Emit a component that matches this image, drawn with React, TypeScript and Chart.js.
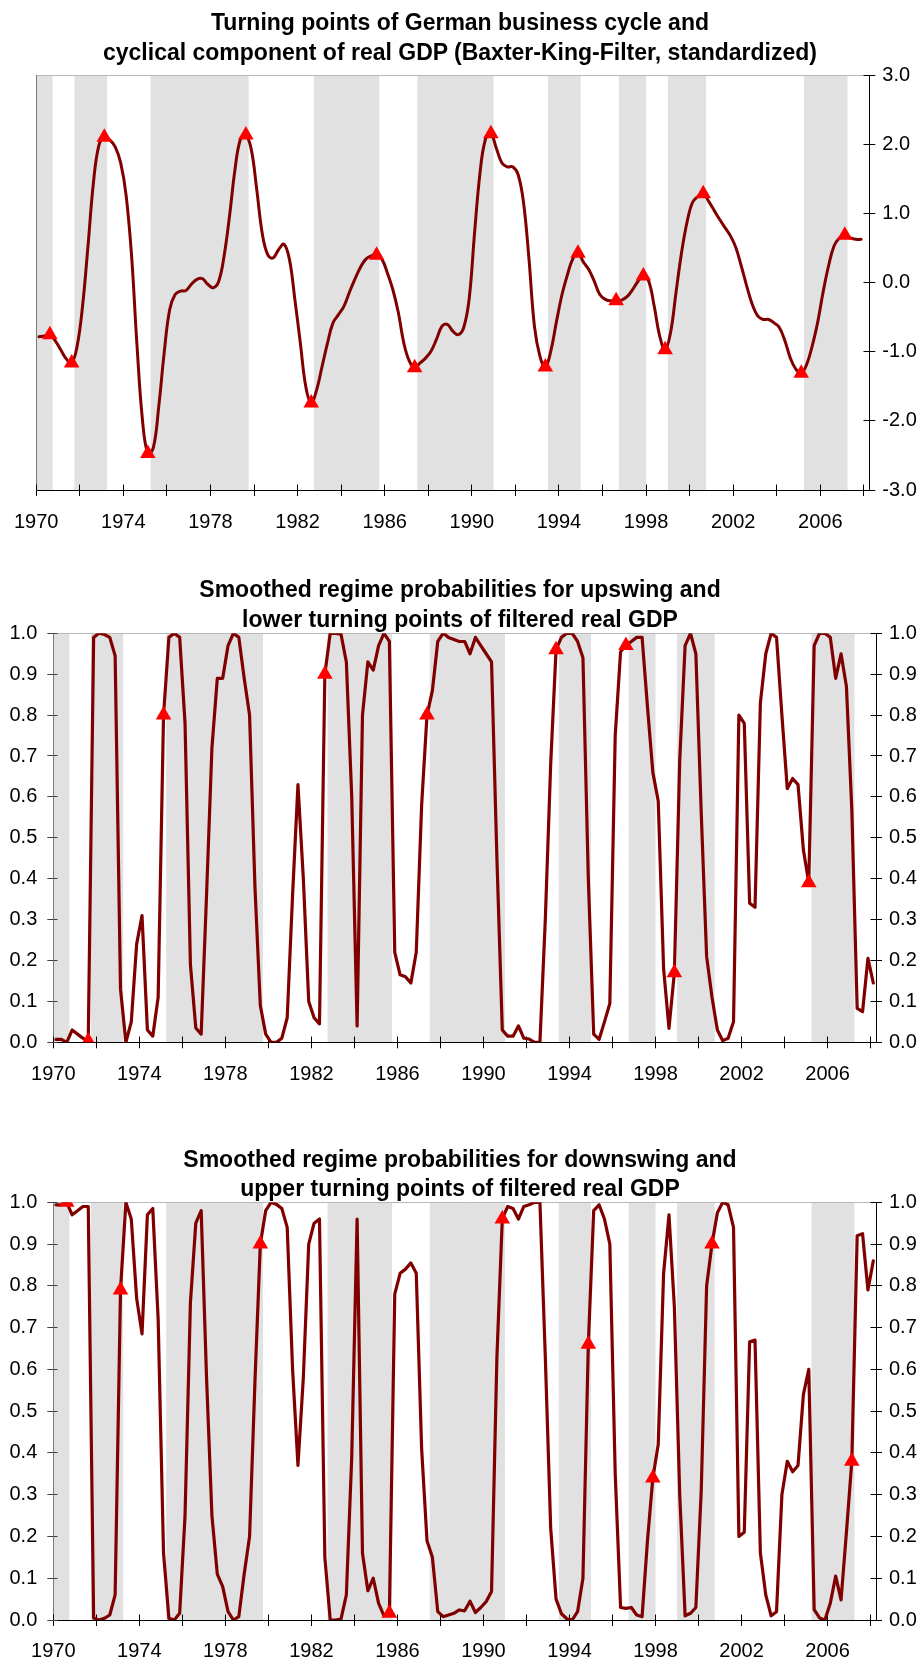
import React, { useEffect, useRef } from 'react';
import { Chart, registerables } from 'chart.js';

Chart.register(...registerables);

const FONT = "'Liberation Sans', Arial, Helvetica, sans-serif";

// Quarterly observations 1970Q1 ... 2008Q1, plotted at the centre of each quarter
const FIRST_QUARTER_CENTRE = 1970.125;
const QUARTER = 0.25;

// Cyclical component of real GDP (Baxter-King filter, standardized), 1970Q1..2007Q4
const gdpCycle = [
  -0.78, -0.77, -0.75, -0.84, -0.97, -1.10, -1.16, -0.92, -0.34, 0.53,
  1.45, 1.99, 2.11, 2.07, 1.97, 1.74, 1.27, 0.40, -0.90, -1.98,
  -2.47, -2.39, -1.79, -1.01, -0.39, -0.17, -0.12, -0.11, -0.02, 0.05,
  0.06, -0.02, -0.07, 0.02, 0.39, 0.97, 1.64, 2.08, 2.14, 1.93,
  1.35, 0.72, 0.41, 0.36, 0.48, 0.56, 0.34, -0.24, -0.87, -1.50,
  -1.74, -1.55, -1.21, -0.87, -0.58, -0.46, -0.34, -0.14, 0.05, 0.22,
  0.34, 0.39, 0.40, 0.34, 0.14, -0.10, -0.43, -0.87, -1.13, -1.23,
  -1.16, -1.09, -0.99, -0.82, -0.63, -0.60, -0.70, -0.75, -0.65, -0.24,
  0.72, 1.59, 2.08, 2.16, 1.95, 1.74, 1.68, 1.68, 1.57, 1.16,
  0.34, -0.63, -1.06, -1.22, -0.99, -0.58, -0.19, 0.10, 0.34, 0.43,
  0.30, 0.19, 0.02, -0.17, -0.24, -0.26, -0.26, -0.25, -0.20, -0.10,
  0.02, 0.10, 0.02, -0.34, -0.77, -0.97, -0.72, -0.14, 0.43, 0.87,
  1.16, 1.25, 1.29, 1.18, 1.05, 0.92, 0.80, 0.68, 0.51, 0.24,
  -0.05, -0.31, -0.48, -0.53, -0.53, -0.58, -0.65, -0.84, -1.09, -1.25,
  -1.31, -1.18, -0.92, -0.58, -0.14, 0.24, 0.53, 0.65, 0.69, 0.65,
  0.63, 0.63,
];

// Smoothed regime probabilities: upswing and lower turning points, 1970Q1..2008Q1
const upswingProb = [
  0.007, 0.007, 0.0, 0.03, 0.02, 0.01, 0.003, 0.99, 1.0, 0.997,
  0.99, 0.945, 0.13, 0.0, 0.05, 0.24, 0.31, 0.03, 0.015, 0.11,
  0.80, 0.99, 1.0, 0.99, 0.78, 0.19, 0.035, 0.02, 0.36, 0.72,
  0.89, 0.89, 0.97, 1.0, 0.99, 0.89, 0.80, 0.38, 0.09, 0.02,
  0.0, 0.0, 0.01, 0.06, 0.36, 0.63, 0.40, 0.10, 0.06, 0.045,
  0.90, 1.0, 1.0, 0.998, 0.93, 0.60, 0.04, 0.80, 0.93, 0.91,
  0.97, 1.0, 0.98, 0.22, 0.165, 0.16, 0.145, 0.22, 0.58, 0.80,
  0.86, 0.98, 1.0, 0.99, 0.985, 0.98, 0.98, 0.95, 0.99, 0.97,
  0.95, 0.93, 0.45, 0.03, 0.015, 0.015, 0.04, 0.01, 0.008, 0.0,
  0.0, 0.30, 0.68, 0.96, 0.99, 1.0, 1.0, 0.98, 0.94, 0.40,
  0.02, 0.007, 0.05, 0.095, 0.75, 0.955, 0.97, 0.98, 0.99, 0.99,
  0.82, 0.66, 0.59, 0.18, 0.034, 0.17, 0.69, 0.97, 1.0, 0.95,
  0.56, 0.21, 0.11, 0.03, 0.004, 0.01, 0.05, 0.80, 0.78, 0.34,
  0.33, 0.83, 0.95, 1.0, 0.99, 0.80, 0.62, 0.645, 0.63, 0.47,
  0.39, 0.97, 1.0, 1.0, 0.99, 0.89, 0.95, 0.87, 0.57, 0.083,
  0.075, 0.205, 0.145,
];

// Smoothed regime probabilities: downswing and upper turning points, 1970Q1..2008Q1
const downswingProb = [
  0.994, 0.994, 1.0, 0.97, 0.98, 0.99, 0.99, 0.005, 0.0, 0.004,
  0.012, 0.06, 0.79, 1.0, 0.96, 0.77, 0.685, 0.97, 0.985, 0.72,
  0.16, 0.004, 0.0, 0.016, 0.25, 0.76, 0.95, 0.98, 0.58, 0.25,
  0.11, 0.08, 0.02, 0.0, 0.008, 0.11, 0.20, 0.57, 0.90, 0.98,
  1.0, 0.995, 0.985, 0.94, 0.60, 0.37, 0.58, 0.90, 0.95, 0.96,
  0.15, 0.0, 0.0, 0.002, 0.06, 0.39, 0.96, 0.16, 0.07, 0.10,
  0.04, 0.01, 0.016, 0.78, 0.83, 0.84, 0.855, 0.83, 0.41, 0.19,
  0.15, 0.02, 0.008, 0.012, 0.016, 0.024, 0.022, 0.045, 0.018, 0.03,
  0.044, 0.068, 0.63, 0.96, 0.99, 0.985, 0.96, 0.99, 0.994, 1.0,
  1.0, 0.63, 0.22, 0.05, 0.015, 0.003, 0.0, 0.02, 0.10, 0.66,
  0.98, 0.994, 0.96, 0.90, 0.35, 0.03, 0.028, 0.03, 0.012, 0.008,
  0.19, 0.34, 0.42, 0.83, 0.97, 0.75, 0.30, 0.01, 0.016, 0.03,
  0.31, 0.80, 0.90, 0.975, 1.0, 0.994, 0.94, 0.20, 0.21, 0.666,
  0.67, 0.16, 0.06, 0.01, 0.02, 0.30, 0.38, 0.355, 0.37, 0.54,
  0.60, 0.025, 0.005, 0.0, 0.04, 0.105, 0.048, 0.21, 0.38, 0.92,
  0.925, 0.79, 0.86,
];

// Turning points (quarter index from 1970Q1)
const peakQuarters = [2, 12, 38, 62, 83, 99, 111, 122, 148];
const troughQuarters = [6, 20, 50, 69, 93, 106, 115, 140];

// Upswing phases (shaded)
const upswingStart = [1970.0, 1971.75, 1975.25, 1982.75, 1987.5, 1993.5, 1996.75, 1999.0, 2005.25];
const upswingEnd = [1970.75, 1973.25, 1979.75, 1985.75, 1991.0, 1995.0, 1998.0, 2000.75, 2007.25];

// Axis ticks
const xTickYears = [1970, 1972, 1974, 1976, 1978, 1980, 1982, 1984, 1986, 1988, 1990,
  1992, 1994, 1996, 1998, 2000, 2002, 2004, 2006, 2008];
const gdpTicks = [-3, -2, -1, 0, 1, 2, 3];
const probTicks = [0, 0.1, 0.2, 0.3, 0.4, 0.5, 0.6, 0.7, 0.8, 0.9, 1.0];

const titleGdp = ['Turning points of German business cycle and',
  'cyclical component of real GDP (Baxter-King-Filter, standardized)'];
const titleUp = ['Smoothed regime probabilities for upswing and',
  'lower turning points of filtered real GDP'];
const titleDown = ['Smoothed regime probabilities for downswing and',
  'upper turning points of filtered real GDP'];

const W = 920;

type PanelSpec = {
  kind: 'gdp' | 'prob';
  title: string[];
  titleTop: number;
  top: number;
  height: number;
  plotTop: number;
  plotBottom: number;
  plotLeft: number;
  plotRight: number;
  series: number[];
  marks: number[];
  labelPad: number;
  tension: number;
  lineWidth: number;
};

const panels: PanelSpec[] = [
  { kind: 'gdp', title: titleGdp, titleTop: 8, top: 0, height: 535, plotTop: 75.7, plotBottom: 490,
    plotLeft: 34.7, plotRight: 869.3, series: gdpCycle, marks: [...peakQuarters, ...troughQuarters],
    labelPad: 14, tension: 0.4, lineWidth: 3 },
  { kind: 'prob', title: titleUp, titleTop: 575, top: 535, height: 555, plotTop: 633.3, plotBottom: 1042.3,
    plotLeft: 53.3, plotRight: 876, series: upswingProb, marks: troughQuarters,
    labelPad: 14, tension: 0, lineWidth: 3.2 },
  { kind: 'prob', title: titleDown, titleTop: 1144.5, top: 1090, height: 574, plotTop: 1202.3, plotBottom: 1620,
    plotLeft: 53.3, plotRight: 876, series: downswingProb, marks: peakQuarters,
    labelPad: 13, tension: 0, lineWidth: 3.2 },
];

const alignPx = (p: number) => Math.round(p - 0.5) + 0.5;

function makeBandPlugin() {
  return {
    id: 'upswingBands',
    beforeDraw(chart: any) {
      const { ctx, chartArea } = chart;
      const xs = chart.scales.x;
      ctx.save();
      ctx.fillStyle = '#E1E1E1';
      for (let k = 0; k < upswingStart.length; k++) {
        const x0 = xs.getPixelForValue(upswingStart[k]);
        const x1 = xs.getPixelForValue(upswingEnd[k]);
        ctx.fillRect(x0, chartArea.top, x1 - x0, chartArea.bottom - chartArea.top);
      }
      ctx.strokeStyle = '#B8B8B8';
      ctx.lineWidth = 1;
      const y = alignPx(chartArea.top);
      ctx.beginPath();
      ctx.moveTo(chartArea.left, y);
      ctx.lineTo(chartArea.right, y);
      ctx.stroke();
      ctx.restore();
    },
  };
}

function makeInnerTickPlugin(specs: { id: string; len: number; color: string }[]) {
  return {
    id: 'innerTicks',
    beforeDatasetsDraw(chart: any) {
      const { ctx } = chart;
      ctx.save();
      ctx.lineWidth = 1;
      for (const spec of specs) {
        const s = chart.scales[spec.id];
        if (!s) continue;
        ctx.strokeStyle = spec.color;
        ctx.beginPath();
        for (const t of s.ticks) {
          const p = alignPx(s.getPixelForValue(t.value));
          if (s.isHorizontal()) {
            const y = alignPx(s.top);
            ctx.moveTo(p, y);
            ctx.lineTo(p, y - spec.len);
          } else if (s.position === 'right') {
            const x = alignPx(s.left);
            ctx.moveTo(x, p);
            ctx.lineTo(x - spec.len, p);
          } else {
            const x = alignPx(s.right);
            ctx.moveTo(x, p);
            ctx.lineTo(x + spec.len, p);
          }
        }
        ctx.stroke();
      }
      ctx.restore();
    },
  };
}

function buildConfig(p: PanelSpec): any {
  const lineData = p.series.map((v, i) => ({ x: FIRST_QUARTER_CENTRE + i * QUARTER, y: v }));
  const markData = p.marks
    .slice()
    .sort((a, b) => a - b)
    .map((i) => ({ x: FIRST_QUARTER_CENTRE + i * QUARTER, y: p.series[i] }));

  const tickFont = { family: FONT, size: 20 };
  const xAxisHeight = p.top + p.height - p.plotBottom;

  const xScale = {
    type: 'linear',
    position: 'bottom',
    min: 1970,
    max: 2008.25,
    afterBuildTicks: (s: any) => {
      s.ticks = xTickYears.map((v) => ({ value: v }));
    },
    afterFit: (s: any) => {
      s.height = xAxisHeight;
    },
    ticks: {
      autoSkip: false,
      maxRotation: 0,
      minRotation: 0,
      padding: p.labelPad,
      color: '#000',
      font: tickFont,
      callback: (v: number) => ((v - 1970) % 4 === 0 ? String(v) : ''),
    },
    grid: { drawOnChartArea: false, drawTicks: true, tickLength: 6, color: '#000', tickColor: '#000' },
    border: { display: true, color: '#000', width: 1 },
  };

  let scales: any;
  let innerSpecs: { id: string; len: number; color: string }[];
  if (p.kind === 'gdp') {
    scales = {
      x: xScale,
      yl: {
        type: 'linear',
        position: 'left',
        min: -3,
        max: 3,
        ticks: { display: false },
        grid: { drawOnChartArea: false, drawTicks: false },
        border: { display: true, color: '#7A7A7A', width: 1 },
        afterFit: (s: any) => {
          s.width = p.plotLeft;
        },
      },
      y: {
        type: 'linear',
        position: 'right',
        min: -3,
        max: 3,
        afterBuildTicks: (s: any) => {
          s.ticks = gdpTicks.map((v) => ({ value: v }));
        },
        afterFit: (s: any) => {
          s.width = W - p.plotRight;
        },
        ticks: { padding: 7, color: '#000', font: tickFont, callback: (v: number) => Number(v).toFixed(1) },
        grid: { drawOnChartArea: false, drawTicks: true, tickLength: 6, color: '#000', tickColor: '#000' },
        border: { display: true, color: '#000', width: 1 },
      },
    };
    innerSpecs = [
      { id: 'x', len: 6, color: '#000' },
      { id: 'y', len: 6, color: '#000' },
    ];
  } else {
    scales = {
      x: xScale,
      y: {
        type: 'linear',
        position: 'left',
        min: 0,
        max: 1,
        afterBuildTicks: (s: any) => {
          s.ticks = probTicks.map((v) => ({ value: v }));
        },
        afterFit: (s: any) => {
          s.width = p.plotLeft;
        },
        ticks: { padding: 10, color: '#000', font: tickFont, callback: (v: number) => Number(v).toFixed(1) },
        grid: { drawOnChartArea: false, drawTicks: true, tickLength: 6, color: '#404040', tickColor: '#404040' },
        border: { display: true, color: '#7A7A7A', width: 1 },
      },
      y2: {
        type: 'linear',
        position: 'right',
        min: 0,
        max: 1,
        afterBuildTicks: (s: any) => {
          s.ticks = probTicks.map((v) => ({ value: v }));
        },
        afterFit: (s: any) => {
          s.width = W - p.plotRight;
        },
        ticks: { padding: 7, color: '#000', font: tickFont, callback: (v: number) => Number(v).toFixed(1) },
        grid: { drawOnChartArea: false, drawTicks: true, tickLength: 6, color: '#000', tickColor: '#000' },
        border: { display: true, color: '#000', width: 1 },
      },
    };
    innerSpecs = [
      { id: 'x', len: 6, color: '#000' },
      { id: 'y', len: 4, color: '#404040' },
      { id: 'y2', len: 6, color: '#000' },
    ];
  }

  return {
    type: 'line',
    data: {
      datasets: [
        {
          label: 'Turning points',
          data: markData,
          yAxisID: 'y',
          showLine: false,
          pointStyle: 'triangle',
          pointRadius: 9,
          pointHoverRadius: 9,
          pointBackgroundColor: '#FF0000',
          pointBorderColor: '#FF0000',
          pointBorderWidth: 0,
        },
        {
          label: 'Series',
          data: lineData,
          yAxisID: 'y',
          borderColor: '#800000',
          borderWidth: p.lineWidth,
          borderJoinStyle: 'round',
          borderCapStyle: 'round',
          tension: p.tension,
          pointRadius: 0,
          pointHoverRadius: 0,
          fill: false,
        },
      ],
    },
    options: {
      animation: false,
      responsive: false,
      maintainAspectRatio: false,
      events: [],
      layout: { padding: { top: p.plotTop - p.top, left: 0, right: 0, bottom: 0 } },
      plugins: {
        legend: { display: false },
        tooltip: { enabled: false },
        title: { display: false },
      },
      scales,
    },
    plugins: [makeBandPlugin(), makeInnerTickPlugin(innerSpecs)],
  };
}

function Panel({ spec }: { spec: PanelSpec }) {
  const ref = useRef<HTMLCanvasElement | null>(null);
  useEffect(() => {
    if (!ref.current) return;
    const chart = new Chart(ref.current, buildConfig(spec));
    return () => chart.destroy();
  }, [spec]);
  return (
    <>
      <canvas
        ref={ref}
        width={W}
        height={spec.height}
        style={{ position: 'absolute', left: 0, top: spec.top, width: W, height: spec.height }}
      />
      <div
        style={{
          position: 'absolute',
          left: 0,
          top: spec.titleTop,
          width: W,
          textAlign: 'center',
          fontFamily: FONT,
          fontWeight: 'bold',
          fontSize: 23,
          lineHeight: '29.5px',
          color: '#000',
          whiteSpace: 'nowrap',
        }}
      >
        {spec.title[0]}
        <br />
        {spec.title[1]}
      </div>
    </>
  );
}

export default function App() {
  return (
    <div style={{ position: 'absolute', left: 0, top: 0, width: W, height: 1664, background: '#fff', overflow: 'hidden' }}>
      {panels.map((p, i) => (
        <Panel key={i} spec={p} />
      ))}
    </div>
  );
}
